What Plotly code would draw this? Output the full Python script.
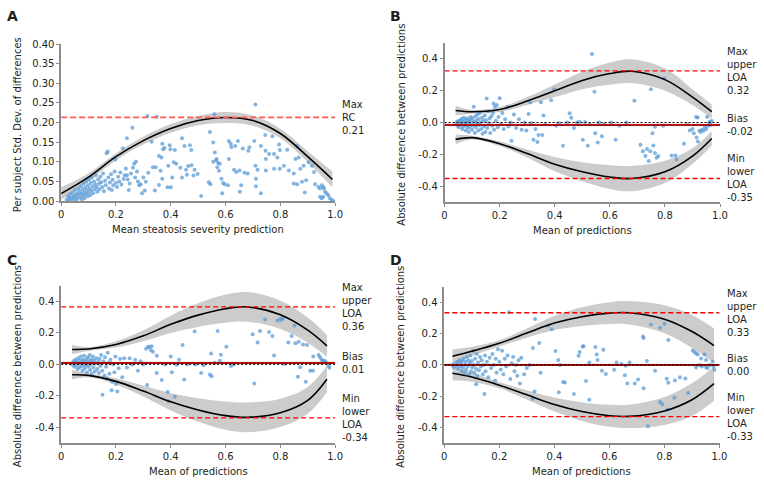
import plotly.graph_objects as go

W, H = 764, 485
FONT = "DejaVu Sans"
TXT = "#231f20"
AXC = "#8c8c8c"
PT = "rgba(91,155,213,0.75)"
BAND = "rgb(204,204,204)"

# ---------------- Panel A ----------------
A_pts = [(0.02,0.004),(0.025,0.012),(0.028,0.0),(0.03,0.008),(0.033,0.018),(0.036,0.003),(0.04,0.01),(0.042,0.022),(0.045,0.006),(0.047,0.015),(0.05,0.028),(0.052,0.002),(0.055,0.012),(0.057,0.02),(0.06,0.006),(0.062,0.032),(0.064,0.016),(0.067,0.025),(0.07,0.01),(0.072,0.038),(0.074,0.019),(0.076,0.004),(0.078,0.03),(0.08,0.014),(0.082,0.045),(0.084,0.024),(0.086,0.008),(0.088,0.035),(0.09,0.018),(0.092,0.05),(0.094,0.028),(0.096,0.012),(0.098,0.04),(0.1,0.022),(0.102,0.055),(0.104,0.032),(0.106,0.015),(0.108,0.046),(0.11,0.026),(0.112,0.06),(0.115,0.038),(0.117,0.02),(0.12,0.05),(0.122,0.03),(0.125,0.042),(0.127,0.066),(0.13,0.035),(0.132,0.024),(0.135,0.055),(0.138,0.044),(0.14,0.03),(0.143,0.062),(0.146,0.048),(0.15,0.036),(0.153,0.07),(0.156,0.025),(0.16,0.052),(0.163,0.04),(0.166,0.122),(0.17,0.126),(0.172,0.06),(0.175,0.032),(0.178,0.047),(0.182,0.068),(0.185,0.028),(0.188,0.054),(0.19,0.04),(0.195,0.075),(0.198,0.106),(0.2,0.046),(0.204,0.036),(0.208,0.062),(0.212,0.05),(0.216,0.073),(0.22,0.042),(0.225,0.134),(0.228,0.056),(0.232,0.066),(0.236,0.083),(0.24,0.16),(0.24,0.066),(0.243,0.055),(0.247,0.028),(0.25,0.045),(0.255,0.07),(0.26,0.187),(0.262,0.085),(0.266,0.095),(0.27,0.06),(0.273,0.1),(0.277,0.075),(0.28,0.05),(0.285,0.04),(0.29,0.043),(0.295,0.02),(0.3,0.06),(0.305,0.027),(0.309,0.049),(0.315,0.217),(0.318,0.072),(0.33,0.151),(0.335,0.086),(0.342,0.027),(0.345,0.086),(0.349,0.215),(0.357,0.115),(0.357,0.041),(0.363,0.077),(0.366,0.111),(0.369,0.146),(0.369,0.057),(0.372,0.132),(0.377,0.135),(0.388,0.035),(0.391,0.09),(0.396,0.142),(0.399,0.132),(0.4,0.035),(0.405,0.06),(0.411,0.099),(0.415,0.13),(0.42,0.095),(0.435,0.085),(0.441,0.16),(0.441,0.06),(0.45,0.14),(0.456,0.08),(0.459,0.067),(0.464,0.089),(0.47,0.142),(0.475,0.13),(0.476,0.091),(0.483,0.065),(0.487,0.08),(0.498,0.069),
(0.511,0.013),(0.539,0.048),(0.543,0.176),(0.545,0.043),(0.555,0.149),(0.555,0.1),(0.559,0.221),(0.561,0.124),(0.566,0.103),(0.567,0.107),(0.57,0.086),(0.573,0.097),(0.576,0.077),(0.579,0.095),(0.585,0.057),(0.588,0.02),(0.591,0.046),(0.597,0.043),(0.609,0.04),(0.612,0.153),(0.612,0.107),(0.619,0.146),(0.621,0.138),(0.631,0.08),(0.635,0.14),(0.639,0.074),(0.645,0.153),(0.651,0.078),(0.652,0.024),(0.657,0.04),(0.663,0.134),(0.669,0.072),(0.681,0.07),(0.683,0.128),(0.687,0.137),(0.705,0.153),(0.709,0.246),(0.709,0.09),(0.711,0.038),(0.717,0.08),(0.711,0.057),(0.729,0.14),(0.729,0.02),(0.745,0.168),(0.746,0.128),(0.747,0.107),(0.747,0.078),(0.759,0.12),(0.771,0.165),(0.777,0.12),(0.777,0.082),(0.789,0.111),(0.795,0.144),(0.798,0.13),(0.798,0.082),(0.813,0.09),(0.825,0.131),(0.831,0.078),(0.849,0.07),(0.849,0.045),(0.855,0.107),(0.861,0.043),(0.861,0.14),(0.867,0.111),(0.873,0.082),(0.879,0.049),(0.885,0.09),(0.889,0.022),(0.894,0.053),(0.903,0.099),(0.915,0.09),(0.923,0.074),(0.927,0.043),(0.939,0.036),(0.945,0.032),(0.945,0.011),(0.951,0.04),(0.951,0.007),(0.957,0.036),(0.957,0.011),(0.959,0.032),(0.963,0.024),(0.969,0.02),(0.975,0.015),(0.981,0.007),(0.987,0.003),(0.993,0.0)]
A_fit_x = [0.0, 0.1, 0.2, 0.3, 0.4, 0.5, 0.6, 0.7, 0.8, 0.9, 0.99]
A_fit = [0.019, 0.061, 0.113, 0.154, 0.185, 0.205, 0.213, 0.205, 0.172, 0.113, 0.055]
A_band = [0.016, 0.01, 0.009, 0.01, 0.011, 0.012, 0.014, 0.013, 0.012, 0.014, 0.02]
A_max_rc = 0.213
A_labels = ["Max<br>RC<br>0.21"]

# ---------------- Panel B ----------------
B_pts = [(0.04,-0.01),(0.045,0.005),(0.048,-0.02),(0.05,0.01),(0.052,-0.03),(0.055,0.0),(0.057,0.015),(0.06,-0.012),(0.062,0.022),(0.064,-0.04),(0.066,0.005),(0.068,-0.025),(0.07,0.03),(0.072,-0.005),(0.074,0.012),(0.076,-0.05),(0.078,-0.018),(0.08,0.025),(0.082,0.0),(0.084,-0.035),(0.086,0.018),(0.088,-0.06),(0.09,0.008),(0.092,-0.028),(0.094,0.035),(0.096,-0.01),(0.098,0.015),(0.1,-0.045),(0.102,0.028),(0.104,-0.02),(0.106,0.1),(0.108,0.005),(0.11,-0.065),(0.112,0.04),(0.114,-0.03),(0.116,0.015),(0.118,-0.008),(0.12,0.05),(0.122,-0.05),(0.124,0.022),(0.126,-0.015),(0.128,0.06),(0.13,0.0),(0.133,-0.04),(0.136,0.03),(0.138,-0.07),(0.14,0.01),(0.143,-0.025),(0.146,0.045),(0.148,-0.06),(0.15,0.015),(0.153,0.152),(0.155,-0.035),(0.158,0.07),(0.16,-0.005),(0.163,0.025),(0.166,-0.065),(0.17,0.04),(0.173,-0.02),(0.176,0.06),(0.178,0.12),(0.18,-0.045),(0.183,0.1),(0.186,0.012),(0.19,0.11),(0.193,-0.03),(0.196,0.035),(0.2,0.153),(0.205,-0.01),(0.21,0.06),(0.215,-0.04),(0.22,0.02),(0.228,0.1),(0.232,-0.025),(0.24,0.0),(0.243,-0.115),(0.252,0.05),(0.26,-0.035),(0.27,0.02),(0.28,-0.045),(0.29,0.0),(0.297,-0.05),(0.305,0.054),(0.311,0.127),(0.315,-0.005),(0.323,-0.109),(0.33,-0.04),(0.337,-0.123),(0.341,-0.078),(0.35,0.127),(0.355,-0.078),(0.359,0.044),(0.365,-0.01),(0.387,0.141),(0.398,0.21),(0.405,-0.02),(0.415,-0.004),(0.43,-0.146),(0.445,0.0),(0.454,0.058),(0.46,0.03),(0.47,-0.035),(0.48,0.0),(0.49,0.005),(0.502,-0.109),(0.51,0.003),(0.52,-0.146),(0.528,-0.01),(0.535,0.431),(0.544,0.193),(0.547,-0.068),(0.556,-0.125),(0.56,0.0),(0.571,-0.086),(0.58,-0.01),(0.605,0.0),(0.621,-0.109),(0.635,-0.02),(0.66,0.0),(0.689,0.137),(0.711,-0.139),(0.72,-0.18),(0.729,-0.211),(0.735,-0.166),(0.741,-0.242),(0.747,-0.18),(0.749,0.209),(0.755,-0.068),(0.758,-0.145),(0.764,-0.191),(0.764,-0.027),(0.77,-0.222),(0.776,-0.211),(0.794,-0.02),(0.798,0.277),(0.824,-0.207),(0.838,-0.207),(0.842,-0.232),(0.869,-0.133),(0.88,-0.01),(0.89,-0.05),(0.9,-0.04),(0.905,-0.068),(0.913,0.035),(0.915,-0.094),(0.919,0.031),(0.92,-0.119),(0.925,-0.051),(0.93,-0.06),(0.935,-0.045),(0.94,-0.051),(0.945,-0.03),(0.95,-0.04),(0.953,0.035),(0.957,-0.02),(0.96,-0.005),(0.963,0.005),(0.966,-0.015),(0.97,0.01)]
B_fit_x = [0.04, 0.1, 0.2, 0.3, 0.4, 0.5, 0.6, 0.68, 0.8, 0.9, 0.97]
B_upper = [0.076, 0.068, 0.082, 0.135, 0.2, 0.265, 0.308, 0.323, 0.27, 0.16, 0.068]
B_upper_band = [0.03, 0.012, 0.015, 0.025, 0.04, 0.055, 0.07, 0.075, 0.07, 0.05, 0.045]
B_lower = [-0.106, -0.095, -0.133, -0.195, -0.262, -0.31, -0.343, -0.352, -0.31, -0.211, -0.1]
B_lower_band = [0.03, 0.012, 0.015, 0.025, 0.045, 0.06, 0.075, 0.08, 0.07, 0.05, 0.045]
B_bias = -0.015
B_max_upper = 0.325
B_min_lower = -0.352
B_labels = ["Max<br>upper<br>LOA<br>0.32", "Bias<br>-0.02", "Min<br>lower<br>LOA<br>-0.35"]

# ---------------- Panel C ----------------
C_pts = [(0.04,0.0),(0.045,0.02),(0.048,-0.015),(0.05,0.01),(0.052,0.03),(0.055,-0.005),(0.058,0.015),(0.06,-0.03),(0.062,0.04),(0.065,0.005),(0.067,-0.02),(0.07,0.025),(0.072,0.05),(0.074,-0.01),(0.076,0.012),(0.078,-0.04),(0.08,0.03),(0.082,0.0),(0.084,0.055),(0.086,-0.025),(0.088,0.018),(0.09,-0.005),(0.092,0.035),(0.094,-0.05),(0.096,0.008),(0.098,0.045),(0.1,-0.015),(0.102,0.022),(0.104,0.06),(0.106,-0.035),(0.108,0.0),(0.11,0.03),(0.112,-0.06),(0.114,0.012),(0.116,0.05),(0.118,-0.02),(0.12,0.025),(0.123,-0.045),(0.126,0.005),(0.129,0.04),(0.132,-0.03),(0.135,0.015),(0.138,-0.055),(0.14,0.035),(0.143,-0.01),(0.146,0.06),(0.15,-0.04),(0.151,-0.193),(0.154,0.02),(0.158,-0.07),(0.16,0.045),(0.164,-0.015),(0.168,-0.09),(0.17,0.075),(0.173,0.01),(0.176,-0.06),(0.18,0.03),(0.184,-0.164),(0.186,-0.11),(0.19,0.0),(0.194,-0.05),(0.198,0.05),(0.2,-0.125),(0.205,-0.172),(0.21,-0.025),(0.215,0.035),(0.223,-0.081),(0.23,0.04),(0.24,-0.02),(0.25,0.04),(0.26,0.0),(0.27,0.03),(0.28,-0.04),(0.29,0.02),(0.3,0.0),(0.31,0.1),(0.314,-0.131),(0.317,0.113),(0.322,0.11),(0.328,0.09),(0.33,0.115),(0.335,0.08),(0.349,0.055),(0.349,-0.054),(0.367,-0.1),(0.38,0.0),(0.389,-0.175),(0.392,-0.235),(0.4,0.05),(0.404,-0.05),(0.415,-0.206),(0.421,-0.002),(0.43,0.03),(0.443,0.123),(0.449,-0.096),(0.46,0.0),(0.487,0.21),(0.49,0.0),(0.511,-0.054),(0.52,-0.005),(0.543,-0.064),(0.547,0.07),(0.549,-0.075),(0.56,0.01),(0.571,0.213),(0.579,0.023),(0.583,0.061),(0.603,0.113),(0.62,-0.01),(0.63,0.0),(0.699,0.192),(0.705,-0.121),(0.717,0.14),(0.726,0.213),(0.745,0.286),(0.759,0.207),(0.771,0.181),(0.777,0.056),(0.79,0.28),(0.8,0.29),(0.805,0.285),(0.81,0.295),(0.815,0.002),(0.829,0.14),(0.841,0.181),(0.852,0.248),(0.855,0.134),(0.864,-0.078),(0.867,0.145),(0.872,-0.018),(0.883,0.127),(0.893,-0.11),(0.897,0.123),(0.909,-0.04),(0.919,-0.04),(0.92,0.05),(0.94,0.06),(0.945,0.045),(0.95,0.03),(0.955,0.025),(0.96,0.02),(0.965,0.02),(0.975,-0.008),(0.979,-0.022)]
C_fit_x = [0.04, 0.1, 0.2, 0.3, 0.4, 0.5, 0.6, 0.68, 0.8, 0.9, 0.97]
C_upper = [0.095, 0.098, 0.127, 0.182, 0.255, 0.314, 0.355, 0.366, 0.316, 0.218, 0.118]
C_upper_band = [0.03, 0.012, 0.02, 0.035, 0.055, 0.075, 0.09, 0.095, 0.09, 0.08, 0.07]
C_lower = [-0.066, -0.07, -0.108, -0.17, -0.238, -0.29, -0.326, -0.337, -0.308, -0.229, -0.094]
C_lower_band = [0.03, 0.012, 0.02, 0.035, 0.055, 0.075, 0.09, 0.095, 0.09, 0.085, 0.085]
C_bias = 0.01
C_max_upper = 0.366
C_min_lower = -0.34
C_labels = ["Max<br>upper<br>LOA<br>0.36", "Bias<br>0.01", "Min<br>lower<br>LOA<br>-0.34"]

# ---------------- Panel D ----------------
D_pts = [(0.03,0.0),(0.035,-0.015),(0.04,0.01),(0.045,-0.005),(0.048,0.02),(0.05,-0.025),(0.053,0.005),(0.056,0.03),(0.058,-0.01),(0.06,0.015),(0.063,-0.04),(0.065,0.025),(0.068,-0.02),(0.07,0.04),(0.072,0.0),(0.075,-0.05),(0.078,0.02),(0.08,-0.03),(0.082,0.05),(0.085,-0.008),(0.088,0.03),(0.09,-0.06),(0.093,0.01),(0.095,0.06),(0.098,-0.04),(0.1,0.025),(0.102,-0.015),(0.105,0.09),(0.108,0.0),(0.11,-0.05),(0.112,0.04),(0.115,-0.025),(0.116,-0.124),(0.118,0.07),(0.12,-0.07),(0.123,0.015),(0.126,-0.035),(0.13,0.05),(0.133,-0.01),(0.136,0.03),(0.14,-0.06),(0.143,0.0),(0.146,-0.186),(0.148,0.06),(0.15,-0.04),(0.155,0.02),(0.16,-0.08),(0.165,0.045),(0.17,-0.02),(0.175,0.07),(0.18,0.0),(0.185,-0.1),(0.187,0.04),(0.19,-0.05),(0.195,0.1),(0.2,0.02),(0.205,-0.03),(0.21,0.09),(0.215,-0.06),(0.22,0.04),(0.225,-0.01),(0.23,0.06),(0.235,0.337),(0.24,-0.09),(0.245,0.01),(0.25,0.05),(0.255,-0.04),(0.26,0.0),(0.265,-0.07),(0.27,0.03),(0.275,-0.12),(0.28,0.045),(0.29,-0.06),(0.3,-0.02),(0.31,0.0),(0.321,-0.217),(0.322,0.108),(0.328,-0.17),(0.33,0.294),(0.345,0.14),(0.35,-0.05),(0.378,0.252),(0.39,0.228),(0.404,0.089),(0.414,0.031),(0.416,-0.176),(0.42,0.0),(0.432,-0.11),(0.438,-0.113),(0.471,-0.186),(0.488,0.058),(0.492,0.083),(0.503,0.118),(0.506,0.12),(0.515,-0.104),(0.527,-0.224),(0.527,0.016),(0.549,0.114),(0.554,0.066),(0.557,0.031),(0.573,-0.037),(0.578,0.097),(0.587,-0.058),(0.617,-0.031),(0.626,0.015),(0.644,0.006),(0.656,-0.066),(0.659,-0.005),(0.665,-0.12),(0.673,0.015),(0.692,-0.12),(0.704,-0.093),(0.722,0.182),(0.724,0.172),(0.724,-0.149),(0.736,0.025),(0.74,-0.393),(0.751,0.259),(0.766,-0.037),(0.784,0.238),(0.784,-0.238),(0.792,-0.253),(0.8,0.263),(0.808,-0.089),(0.811,-0.286),(0.814,0.159),(0.814,-0.114),(0.836,-0.211),(0.838,-0.1),(0.856,-0.079),(0.876,-0.087),(0.886,-0.18),(0.903,0.093),(0.909,0.083),(0.915,0.073),(0.915,-0.016),(0.921,0.066),(0.927,0.0),(0.933,0.041),(0.936,-0.01),(0.945,0.066),(0.951,0.031),(0.951,-0.016),(0.957,-0.02),(0.966,0.0),(0.975,0.021),(0.979,-0.01),(0.981,-0.031)]
D_fit_x = [0.03, 0.1, 0.2, 0.3, 0.4, 0.5, 0.6, 0.67, 0.8, 0.9, 0.98]
D_upper = [0.056, 0.087, 0.138, 0.204, 0.268, 0.309, 0.332, 0.334, 0.293, 0.214, 0.124]
D_upper_band = [0.045, 0.03, 0.02, 0.03, 0.045, 0.06, 0.07, 0.075, 0.09, 0.105, 0.11]
D_lower = [-0.054, -0.078, -0.13, -0.192, -0.254, -0.299, -0.326, -0.33, -0.295, -0.223, -0.12]
D_lower_band = [0.045, 0.03, 0.02, 0.03, 0.045, 0.06, 0.07, 0.075, 0.09, 0.105, 0.11]
D_bias = 0.0
D_max_upper = 0.334
D_min_lower = -0.332
D_labels = ["Max<br>upper<br>LOA<br>0.33", "Bias<br>0.00", "Min<br>lower<br>LOA<br>-0.33"]

# ---------------- axes / ticks ----------------
X_TICKS = [0, 0.2, 0.4, 0.6, 0.8, 1.0]
X_TICKTEXT = ["0", "0.2", "0.4", "0.6", "0.8", "1.0"]
A_YTICKS = [0, 0.05, 0.10, 0.15, 0.20, 0.25, 0.30, 0.35, 0.40]
A_YTICKTEXT = ["0.00", "0.05", "0.10", "0.15", "0.20", "0.25", "0.30", "0.35", "0.40"]
LOA_YTICKS = [-0.4, -0.2, 0.0, 0.2, 0.4]
LOA_YTICKTEXT = ["-0.4", "-0.2", "0.0", "0.2", "0.4"]

# panel pixel boxes: (left, right, top, bottom)
BOX = {
    "A": (59, 337, 39, 200),
    "B": (448, 727.5, 38, 201),
    "C": (59, 337, 287, 448),
    "D": (447.7, 727, 288, 448),
}
AX = {"A": ("x", "y", "", ""), "B": ("x2", "y2", "2", "2"),
      "C": ("x3", "y3", "3", "3"), "D": ("x4", "y4", "4", "4")}

fig = go.Figure()


def band(p, xs, centre, half):
    xa, ya = AX[p][0], AX[p][1]
    lo = [c - h for c, h in zip(centre, half)]
    hi = [c + h for c, h in zip(centre, half)]
    fig.add_trace(go.Scatter(x=xs, y=lo, xaxis=xa, yaxis=ya, mode="lines",
                             line=dict(width=0, shape="spline", color=BAND),
                             showlegend=False, hoverinfo="skip"))
    fig.add_trace(go.Scatter(x=xs, y=hi, xaxis=xa, yaxis=ya, mode="lines",
                             line=dict(width=0, shape="spline", color=BAND),
                             fill="tonexty", fillcolor=BAND,
                             showlegend=False, hoverinfo="skip"))


def curve(p, xs, ys):
    xa, ya = AX[p][0], AX[p][1]
    fig.add_trace(go.Scatter(x=xs, y=ys, xaxis=xa, yaxis=ya, mode="lines",
                             line=dict(width=1.6, shape="spline", color="black"),
                             showlegend=False, hoverinfo="skip"))


def hline(p, v, color, width, dash):
    xa, ya = AX[p][0], AX[p][1]
    fig.add_trace(go.Scatter(x=[0, 1], y=[v, v], xaxis=xa, yaxis=ya, mode="lines",
                             line=dict(width=width, color=color, dash=dash),
                             showlegend=False, hoverinfo="skip"))


def points(p, pts):
    xa, ya = AX[p][0], AX[p][1]
    fig.add_trace(go.Scatter(x=[q[0] for q in pts], y=[q[1] for q in pts],
                             xaxis=xa, yaxis=ya, mode="markers", cliponaxis=False,
                             marker=dict(size=4, color=PT, line=dict(width=0)),
                             showlegend=False, hoverinfo="skip"))


# Panel A
band("A", A_fit_x, A_fit, A_band)
points("A", A_pts)
curve("A", A_fit_x, A_fit)
hline("A", A_max_rc, "rgb(255,90,90)", 1.8, "6px,3px")

# Panels B, C, D
LOA = {
    "B": (B_pts, B_fit_x, B_upper, B_upper_band, B_lower, B_lower_band, B_bias, B_max_upper, B_min_lower),
    "C": (C_pts, C_fit_x, C_upper, C_upper_band, C_lower, C_lower_band, C_bias, C_max_upper, C_min_lower),
    "D": (D_pts, D_fit_x, D_upper, D_upper_band, D_lower, D_lower_band, D_bias, D_max_upper, D_min_lower),
}
for p, (pts, fx, up, upb, lo, lob, bias, mx, mn) in LOA.items():
    band(p, fx, up, upb)
    band(p, fx, lo, lob)
    band(p, [0, 1], [bias, bias], [0.007, 0.007])
    points(p, pts)
    curve(p, fx, up)
    curve(p, fx, lo)
    hline(p, bias, "black", 1.6, "solid")
    hline(p, bias, "rgb(255,0,0)", 1.2, "solid")
    hline(p, 0, "black", 1.0, "2px,2px")
    hline(p, mx, "rgb(255,0,0)", 1.3, "5px,3px")
    hline(p, mn, "rgb(255,0,0)", 1.3, "5px,3px")

# ---------------- layout ----------------
layout = dict(width=W, height=H, margin=dict(l=0, r=0, t=0, b=0),
              paper_bgcolor="white", plot_bgcolor="white", showlegend=False,
              font=dict(family=FONT, size=10, color=TXT))

annotations = []
for p, (l, r, t, b) in BOX.items():
    _, _, xs, ys = AX[p]
    xd = [l / W, r / W]
    yd = [1 - b / H, 1 - t / H]
    common = dict(showline=True, linecolor=AXC, linewidth=1.5, ticks="outside",
                  ticklen=3, tickwidth=1, tickcolor=AXC, showgrid=False, zeroline=False,
                  tickfont=dict(family=FONT, size=10, color=TXT), fixedrange=True)
    layout["xaxis" + xs] = dict(domain=xd, range=[0, 1], tickvals=X_TICKS, ticktext=X_TICKTEXT,
                                anchor="y" + ys, **common)
    if p == "A":
        layout["yaxis" + ys] = dict(domain=yd, range=[0, 0.40], tickvals=A_YTICKS,
                                    ticktext=A_YTICKTEXT, anchor="x" + xs, **common)
    else:
        layout["yaxis" + ys] = dict(domain=yd, range=[-0.5, 0.5], tickvals=LOA_YTICKS,
                                    ticktext=LOA_YTICKTEXT, anchor="x" + xs, **common)

    # x-axis title
    xt = "Mean steatosis severity prediction" if p == "A" else "Mean of predictions"
    annotations.append(dict(text=xt, xref="paper", yref="paper", x=(l + r) / 2 / W,
                            y=1 - (b + 29) / H, xanchor="center", yanchor="middle",
                            showarrow=False, font=dict(size=10, color=TXT, family=FONT)))
    # y-axis title
    yt = "Per subject Std. Dev. of differences" if p == "A" else "Absolute difference between predictions"
    annotations.append(dict(text=yt, xref="paper", yref="paper", x=(l - 44) / W,
                            y=1 - ((t + b) / 2 + 2) / H, xanchor="center", yanchor="middle",
                            textangle=-90, showarrow=False,
                            font=dict(size=10, color=TXT, family=FONT)))
    # panel letter
    lx = 2 if p in ("A", "C") else 391
    ly = 10 if p in ("A", "B") else 260
    annotations.append(dict(text="<b>%s</b>" % p, xref="paper", yref="paper", x=lx / W,
                            y=1 - ly / H, xanchor="left", yanchor="middle", showarrow=False,
                            font=dict(size=14, color=TXT, family=FONT)))

# right-hand labels
def side_label(p, text, v):
    xs, ys = AX[p][2], AX[p][3]
    annotations.append(dict(text=text, xref=("x%s domain" % xs), yref=("y" + ys), x=1, y=v,
                            xshift=5, xanchor="left", yanchor="middle", align="left",
                            showarrow=False, font=dict(size=10, color=TXT, family=FONT)))

side_label("A", A_labels[0], A_max_rc)
for p, labs in (("B", B_labels), ("C", C_labels), ("D", D_labels)):
    _, _, _, _, _, _, bias, mx, mn = LOA[p]
    side_label(p, labs[0], mx)
    side_label(p, labs[1], bias)
    side_label(p, labs[2], mn)

layout["annotations"] = annotations
fig.update_layout(**layout)
fig.write_html(
    "out.html",
    config={"displayModeBar": False, "responsive": False},
    post_script="document.body.style.margin='0px';document.body.style.padding='0px';"
                "document.documentElement.style.overflow='hidden';",
)
